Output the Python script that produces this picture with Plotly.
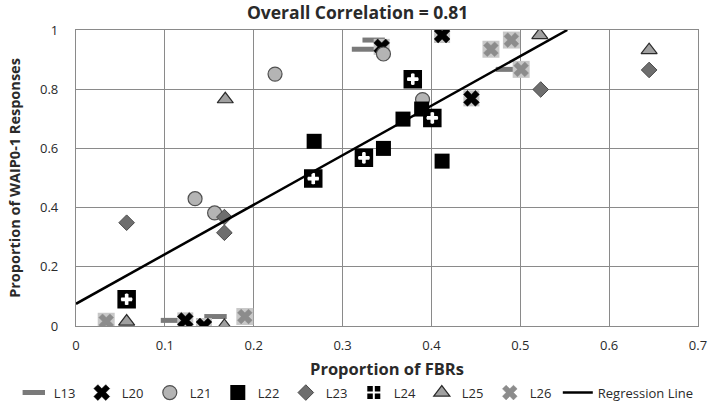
import plotly.graph_objects as go

# ---- data ----
L13_x = [0.335, 0.323, 0.485, 0.108, 0.157]
L13_y = [0.966, 0.935, 0.867, 0.019, 0.032]

L20_x = [0.344, 0.412, 0.445, 0.123, 0.144]
L20_y = [0.943, 0.983, 0.769, 0.019, 0.000]

L21_x = [0.224, 0.346, 0.390, 0.134, 0.156]
L21_y = [0.851, 0.919, 0.765, 0.430, 0.382]

L22_x = [0.268, 0.368, 0.389, 0.346, 0.412]
L22_y = [0.624, 0.699, 0.733, 0.600, 0.557]

L23_x = [0.057, 0.167, 0.167, 0.523, 0.645]
L23_y = [0.349, 0.368, 0.315, 0.799, 0.865]

L24_x = [0.267, 0.324, 0.401, 0.379, 0.057]
L24_y = [0.498, 0.568, 0.703, 0.834, 0.090]

L25_x = [0.168, 0.522, 0.645, 0.057, 0.167]
L25_y = [0.766, 0.983, 0.932, 0.015, 0.000]

L26_x = [0.467, 0.490, 0.501, 0.034, 0.190]
L26_y = [0.935, 0.966, 0.867, 0.016, 0.032]

reg_intercept = 0.075
reg_slope = 1.673
reg_x = [0.0, (1.0 - reg_intercept) / reg_slope]
reg_y = [reg_intercept + reg_slope * v for v in reg_x]

title_text = "Overall Correlation = 0.81"
x_title = "Proportion of FBRs"
y_title = "Proportion of WAIP0-1 Responses"
x_ticks = [0, 0.1, 0.2, 0.3, 0.4, 0.5, 0.6, 0.7]
y_ticks = [0, 0.2, 0.4, 0.6, 0.8, 1]

FONT = "Open Sans"
TXT = "#2a2a2a"
fig = go.Figure()

# L13
fig.add_trace(go.Scatter(x=L13_x, y=L13_y, mode="markers", name="L13",
                         marker=dict(symbol="line-ew", size=16, color="#7a7a7a",
                                     line=dict(color="#7a7a7a", width=5))))
# L20: light square behind + black x
fig.add_trace(go.Scatter(x=L20_x, y=L20_y, mode="markers", name="L20", showlegend=False,
                         legendgroup="L20", hoverinfo="skip",
                         marker=dict(symbol="square", size=16, color="#c4c4c4",
                                     line=dict(width=0))))
fig.add_trace(go.Scatter(x=L20_x, y=L20_y, mode="markers", name="L20", legendgroup="L20",
                         marker=dict(symbol="x", size=14, color="#000000",
                                     line=dict(color="#000000", width=0.5))))
# L21
fig.add_trace(go.Scatter(x=L21_x, y=L21_y, mode="markers", name="L21",
                         marker=dict(symbol="circle", size=14, color="#b4b4b4",
                                     line=dict(color="#505050", width=1.2))))
# L22
fig.add_trace(go.Scatter(x=L22_x, y=L22_y, mode="markers", name="L22",
                         marker=dict(symbol="square", size=15, color="#000000",
                                     line=dict(width=0))))
# L23
fig.add_trace(go.Scatter(x=L23_x, y=L23_y, mode="markers", name="L23",
                         marker=dict(symbol="diamond", size=12, color="#6e6e6e",
                                     line=dict(color="#4a4a4a", width=1))))
# L24: black square with white plus
fig.add_trace(go.Scatter(x=L24_x, y=L24_y, mode="markers", name="L24", legendgroup="L24",
                         marker=dict(symbol="square-cross", size=15, color="#000000",
                                     line=dict(color="#ffffff", width=2))))
fig.add_trace(go.Scatter(x=L24_x, y=L24_y, mode="markers", name="L24", showlegend=False,
                         legendgroup="L24", hoverinfo="skip",
                         marker=dict(symbol="square-open", size=15, color="#000000",
                                     line=dict(color="#000000", width=3.5))))
fig.add_trace(go.Scatter(x=L24_x, y=L24_y, mode="markers", name="L24", showlegend=False,
                         legendgroup="L24", hoverinfo="skip",
                         marker=dict(symbol="cross", size=9, color="#ffffff",
                                     line=dict(width=0))))
# L25
fig.add_trace(go.Scatter(x=L25_x, y=L25_y, mode="markers", name="L25",
                         marker=dict(symbol="triangle-up", size=14, color="#a0a0a0",
                                     line=dict(color="#2a2a2a", width=1.2))))
# L26: light square + gray x
fig.add_trace(go.Scatter(x=L26_x, y=L26_y, mode="markers", name="L26", showlegend=False,
                         legendgroup="L26", hoverinfo="skip",
                         marker=dict(symbol="square", size=17, color="#c8c8c8",
                                     line=dict(width=0))))
fig.add_trace(go.Scatter(x=L26_x, y=L26_y, mode="markers", name="L26", legendgroup="L26",
                         marker=dict(symbol="x", size=13, color="#8c8c8c",
                                     line=dict(color="#8c8c8c", width=0.5))))
# Regression
fig.add_trace(go.Scatter(x=reg_x, y=reg_y, mode="lines", name="Regression Line",
                         legendwidth=100,
                         line=dict(color="#000000", width=2.5)))

fig.update_layout(
    width=711, height=404,
    margin=dict(l=76, r=13, t=30, b=78, autoexpand=False),
    paper_bgcolor="white", plot_bgcolor="white",
    font=dict(family=FONT, size=13, color=TXT),
    title=dict(text="<b>" + title_text + "</b>", x=0.503, xanchor="center",
               y=0.969, yanchor="middle", font=dict(family=FONT, size=17.5, color=TXT)),
    legend=dict(orientation="h", x=-0.1, xanchor="left",
                y=-0.225, yanchor="middle", entrywidth=23, entrywidthmode="pixels",
                font=dict(family=FONT, size=13, color=TXT), itemwidth=30,
                tracegroupgap=0),
    showlegend=True,
)
fig.update_xaxes(range=[0, 0.7], tickvals=x_ticks, ticktext=[f"{v:g}" for v in x_ticks],
                 showgrid=True, gridcolor="#8a8a8a", gridwidth=1.3,
                 showline=True, linecolor="#8a8a8a", linewidth=1.3, mirror=True,
                 zeroline=False, ticks="", automargin=False, ticklabelstandoff=7,
                 tickfont=dict(family=FONT, size=13, color=TXT),
                 title=dict(text="<b>" + x_title + "</b>", standoff=10,
                            font=dict(family=FONT, size=16.5, color=TXT)))
fig.update_yaxes(range=[0, 1], tickvals=y_ticks, ticktext=[f"{v:g}" for v in y_ticks],
                 showgrid=True, gridcolor="#8a8a8a", gridwidth=1.3,
                 showline=True, linecolor="#8a8a8a", linewidth=1.3, mirror=True,
                 zeroline=False, ticks="", automargin=False, ticklabelstandoff=14,
                 tickfont=dict(family=FONT, size=13, color=TXT),
                 title=dict(text="<b>" + y_title + "</b>", standoff=15,
                            font=dict(family=FONT, size=14.5, color=TXT)))

fig.write_html("out.html", config={"displayModeBar": False},
               post_script="document.body.style.margin='0px';")
